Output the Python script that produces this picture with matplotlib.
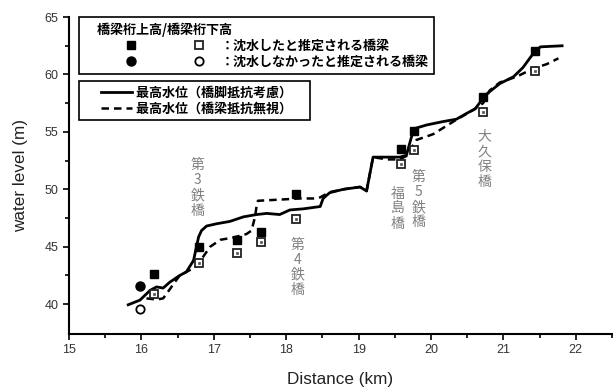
import numpy as np
import matplotlib
matplotlib.use("Agg")
import matplotlib.pyplot as plt
from matplotlib.lines import Line2D
from matplotlib.legend_handler import HandlerTuple, HandlerLine2D

plt.rcParams['font.family'] = ['Liberation Sans', 'Noto Sans CJK JP', 'DejaVu Sans']

# max water level, pier resistance considered (solid)
x_solid = [15.80, 15.98, 16.12, 16.21, 16.30, 16.39, 16.53, 16.62, 16.72, 16.79, 16.83,
           16.90, 17.04, 17.22, 17.41, 17.59, 17.73, 17.91, 18.05, 18.24, 18.47, 18.51,
           18.60, 18.79, 19.02, 19.11, 19.20, 19.39, 19.57, 19.66, 19.73, 19.78, 19.94,
           20.17, 20.35, 20.49, 20.61, 20.68, 20.77, 20.95, 21.14, 21.27, 21.41, 21.51, 21.83]
y_solid = [39.9, 40.35, 41.2, 41.5, 41.4, 41.9, 42.5, 42.8, 43.8, 45.85, 46.4,
           46.8, 47.0, 47.2, 47.6, 47.8, 47.9, 47.8, 48.2, 48.3, 48.5, 49.2,
           49.7, 50.0, 50.2, 49.85, 52.8, 52.8, 52.8, 52.96, 54.55, 55.3, 55.6,
           55.9, 56.1, 56.6, 57.0, 57.6, 58.3, 59.2, 59.8, 60.6, 61.8, 62.4, 62.5]

# max water level, bridge resistance ignored (dashed)
x_dash = [16.07, 16.21, 16.30, 16.37, 16.46, 16.53, 16.74, 16.85, 16.95, 17.09, 17.27,
          17.45, 17.52, 17.57, 17.59, 17.61, 17.91, 18.19, 18.42, 18.47, 18.60, 18.79,
          19.02, 19.11, 19.20, 19.39, 19.57, 19.66, 19.80, 20.03, 20.31, 20.58, 20.72,
          20.81, 20.95, 21.18, 21.41, 21.60, 21.76]
y_dash = [40.5, 40.4, 40.5, 41.1, 41.9, 42.5, 43.2, 44.1, 45.0, 45.6, 45.8,
          46.1, 46.4, 47.6, 48.5, 49.0, 49.1, 49.2, 49.2, 49.3, 49.75, 50.0,
          50.2, 49.85, 52.8, 52.6, 52.6, 52.9, 54.3, 54.8, 55.9, 56.9, 57.5,
          58.6, 59.3, 59.8, 60.5, 60.9, 61.4]

# bridges that were submerged: girder top (filled) / girder bottom (open)
x_sq = [16.18, 16.80, 17.32, 17.65, 18.14, 19.58, 19.77, 20.72, 21.44]
y_sq_top = [42.6, 45.0, 45.6, 46.3, 49.56, 53.5, 55.1, 58.0, 62.0]
y_sq_bot = [40.9, 43.6, 44.46, 45.4, 47.4, 52.2, 53.4, 56.7, 60.3]

# bridge not submerged
x_ci = [15.98]
y_ci_top = [41.6]
y_ci_bot = [39.57]

bridge_names = ["第\n3\n鉄\n橋", "第\n4\n鉄\n橋", "福\n島\n橋", "第\n5\n鉄\n橋", "大\n久\n保\n橋"]
name_x = [16.78, 18.16, 19.54, 19.83, 20.74]
name_y = [52.7, 45.8, 50.2, 51.7, 55.2]

fig = plt.figure(figsize=(6.13, 3.87), dpi=100)
ax = fig.add_axes([69/613, 1-334/387, (612-69)/613, (334-17)/387])

ax.plot(x_solid, y_solid, color='black', lw=2.0, solid_capstyle='butt')
ax.plot(x_dash, y_dash, color='black', lw=1.8, linestyle=(0, (3, 2)))

ax.plot(x_sq, y_sq_top, 's', color='black', ms=6, zorder=5)
ax.plot(x_sq, y_sq_bot, 's', mfc='white', mec='#222222', mew=1.3, ms=5.5, zorder=5)
ax.plot(x_sq, y_sq_bot, 's', mfc='#555555', mec='#555555', mew=0.5, ms=1.6, zorder=6)
ax.plot(x_ci, y_ci_top, 'o', color='black', ms=6.5, zorder=5)
ax.plot(x_ci, y_ci_bot, 'o', mfc='white', mec='black', mew=1.3, ms=6, zorder=5)

for name, nx, ny in zip(bridge_names, name_x, name_y):
    ax.text(nx, ny, name, ha='center', va='top', color='#808080', fontsize=10,
            family='Noto Sans CJK JP', linespacing=1.1)

ax.set_xlim(15, 22.5)
ax.set_ylim(37.4, 65)
ax.set_xticks(range(15, 23))
ax.set_xticks(np.arange(15.5, 22.6, 1.0), minor=True)
ax.set_yticks(range(40, 66, 5))
ax.set_yticks(np.arange(42.5, 65, 5), minor=True)
ax.spines['top'].set_visible(False)
ax.spines['right'].set_visible(False)
ax.spines['left'].set_linewidth(1.5)
ax.spines['bottom'].set_linewidth(1.5)
ax.tick_params(which='both', direction='out', width=1.2, labelsize=9, labelcolor='#333333')
ax.tick_params(which='major', length=4)
ax.tick_params(which='minor', length=3)
ax.set_xlabel('Distance (km)', fontsize=12.3, color='#222222', labelpad=11)
ax.set_ylabel('water level (m)', fontsize=12.3, color='#222222', labelpad=12)

fs = 9.4
leg_prop = {'family': 'Noto Sans CJK JP', 'size': fs, 'weight': 'bold'}

# legend 1: markers
h_sq_f = Line2D([], [], marker='s', color='black', ls='none', ms=5.5)
h_sq_o = Line2D([], [], marker='s', mfc='white', mec='#222222', mew=1.3, ls='none', ms=5.5)
h_ci_f = Line2D([], [], marker='o', color='black', ls='none', ms=6.5)
h_ci_o = Line2D([], [], marker='o', mfc='white', mec='black', mew=1.3, ls='none', ms=6)
leg1 = ax.legend([(h_sq_f, h_sq_o), (h_ci_f, h_ci_o)],
                 ['：沈水したと推定される橋梁', '：沈水しなかったと推定される橋梁'],
                 title='\u3000橋梁桁上高/橋梁桁下高', title_fontproperties=leg_prop,
                 prop=leg_prop, alignment='left',
                 handler_map={tuple: HandlerTuple(ndivide=None, pad=3.68, xpad=2.82)},
                 handlelength=9.55, handletextpad=0.9, labelspacing=0.15,
                 borderpad=0.4, loc='upper left',
                 bbox_to_anchor=(79/613, 1-17/387), bbox_transform=fig.transFigure,
                 borderaxespad=0, fancybox=False, framealpha=1, edgecolor='black')
leg1.get_frame().set_linewidth(1.2)
ax.add_artist(leg1)

# legend 2: lines
h_solid = Line2D([], [], color='black', lw=2.0)
h_dash = Line2D([], [], color='black', lw=1.8, linestyle=(0, (3, 2)))
leg2 = ax.legend([h_solid, h_dash],
                 ['最高水位（橋脚抵抗考慮）\u3000', '最高水位（橋梁抵抗無視）\u3000'],
                 prop=leg_prop, handler_map={Line2D: HandlerLine2D(xpad=1.36)},
                 handlelength=3.74, handletextpad=0.3, labelspacing=0.15,
                 borderpad=0.35, loc='upper left',
                 bbox_to_anchor=(79/613, 1-81/387), bbox_transform=fig.transFigure,
                 borderaxespad=0, fancybox=False, framealpha=1, edgecolor='black')
leg2.get_frame().set_linewidth(1.2)

fig.savefig('out.png', dpi=100)
